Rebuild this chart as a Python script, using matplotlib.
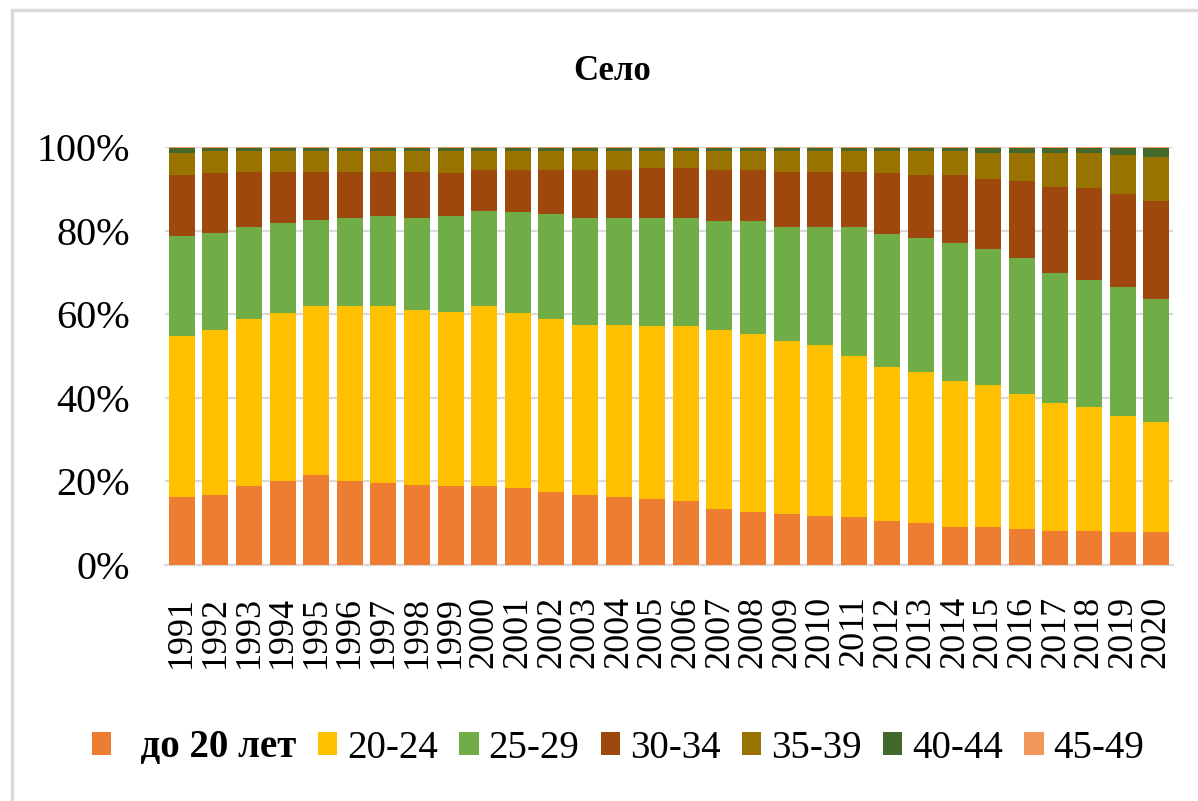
import matplotlib
matplotlib.use("Agg")
import matplotlib.pyplot as plt
from matplotlib.patches import Rectangle
from matplotlib.ticker import FuncFormatter, MultipleLocator
import numpy as np

years = [str(y) for y in range(1991, 2021)]
series_names = ["  до 20 лет", "20-24", "25-29", "30-34", "35-39", "40-44", "45-49"]
colors = ["#ED7D31", "#FFC000", "#70AD47", "#9E480E", "#997300", "#43682B", "#F1975A"]

under20 = [16.2, 16.7, 18.8, 20.2, 21.5, 20.2, 19.7, 19.2, 18.8, 18.8, 18.4, 17.5, 16.7, 16.2, 15.8,
           15.3, 13.5, 12.7, 12.2, 11.8, 11.4, 10.5, 10.1, 9.1, 9.1, 8.7, 8.2, 8.2, 7.8, 7.8]
a20_24 = [38.7, 39.6, 40.1, 40.0, 40.4, 41.7, 42.2, 41.9, 41.8, 43.1, 41.8, 41.4, 40.8, 41.3, 41.3,
          41.8, 42.8, 42.6, 41.4, 40.9, 38.7, 36.9, 36.0, 34.8, 33.9, 32.1, 30.5, 29.6, 27.8, 26.4]
a25_29 = [23.8, 23.2, 22.0, 21.6, 20.7, 21.1, 21.6, 21.9, 22.9, 22.9, 24.2, 25.0, 25.5, 25.5, 25.9,
          25.9, 25.9, 26.9, 27.3, 28.2, 30.8, 31.7, 32.2, 33.1, 32.6, 32.6, 31.2, 30.3, 30.8, 29.5]
a30_34 = [14.5, 14.2, 13.2, 12.3, 11.5, 11.1, 10.6, 11.1, 10.2, 9.7, 10.1, 10.6, 11.5, 11.5, 12.0,
          12.0, 12.3, 12.3, 13.2, 13.2, 13.2, 14.6, 14.9, 16.2, 16.8, 18.5, 20.6, 22.0, 22.4, 23.4]
a35_39 = [5.3, 5.3, 4.9, 4.9, 4.9, 4.9, 4.9, 4.9, 5.3, 4.5, 4.5, 4.5, 4.5, 4.5, 4.0,
          4.0, 4.5, 4.5, 4.9, 4.9, 4.9, 5.3, 5.8, 5.8, 6.1, 6.6, 8.0, 8.4, 9.2, 10.5]
a40_44 = [1.3, 0.8, 0.8, 0.8, 0.8, 0.8, 0.8, 0.8, 0.8, 0.8, 0.8, 0.8, 0.8, 0.8, 0.8,
          0.8, 0.8, 0.8, 0.8, 0.8, 0.8, 0.8, 0.8, 0.8, 1.3, 1.3, 1.3, 1.3, 1.8, 2.2]
a45_49 = [0.2] * 30

data = [under20, a20_24, a25_29, a30_34, a35_39, a40_44, a45_49]

serif = ["Liberation Serif", "DejaVu Serif"]
plt.rcParams["font.family"] = serif

W, H = 1198, 801
fig = plt.figure(figsize=(W / 100, H / 100), dpi=100)
ax = fig.add_axes([165 / W, 1 - 565 / H, (1173 - 165) / W, (565 - 147) / H])

arr = np.array(data, dtype=float)
arr = arr / arr.sum(axis=0) * 100.0
x = np.arange(len(years))
bottom = np.zeros(len(years))
handles = []
for vals, name, c in zip(arr, series_names, colors):
    h = ax.bar(x, vals, bottom=bottom, width=0.77, color=c, label=name, zorder=3, linewidth=0)
    handles.append(h)
    bottom += vals

ax.set_xlim(-0.5, len(years) - 0.5)
ax.set_ylim(0, 100)
ax.yaxis.set_major_locator(MultipleLocator(20))
ax.yaxis.set_major_formatter(FuncFormatter(lambda v, p: f"{int(round(v))}%"))
ax.set_xticks(x)
ax.set_xticklabels(years, rotation=90, fontsize=26)
ax.tick_params(axis="x", length=0, pad=22)
ax.tick_params(axis="y", length=0, pad=25, labelsize=29)
ax.grid(axis="y", color="#d9d9d9", linewidth=1.6, zorder=0)
for s in ["top", "right", "left"]:
    ax.spines[s].set_visible(False)
ax.spines["bottom"].set_color("#d9d9d9")
ax.spines["bottom"].set_linewidth(1.6)
ax.spines["bottom"].set_zorder(0)

fig.text(612 / W, 1 - 72 / H, "Село", ha="center", va="center", fontsize=25, fontweight="bold")

leg = fig.legend(handles=handles, labels=series_names, loc="center", bbox_to_anchor=(0.516, 1 - 748 / H),
                 ncol=7, frameon=False, fontsize=28, handlelength=0.5, handleheight=0.55,
                 handletextpad=0.25, columnspacing=0.55, borderaxespad=0, borderpad=0)
leg.get_texts()[0].set_fontweight("bold")

fig.patches.append(Rectangle((12 / W, -0.2), 1.5, 1.2 - 10 / H, transform=fig.transFigure,
                             fill=False, edgecolor="#d9d9d9", linewidth=2.5))

fig.savefig("out.png", dpi=100)
